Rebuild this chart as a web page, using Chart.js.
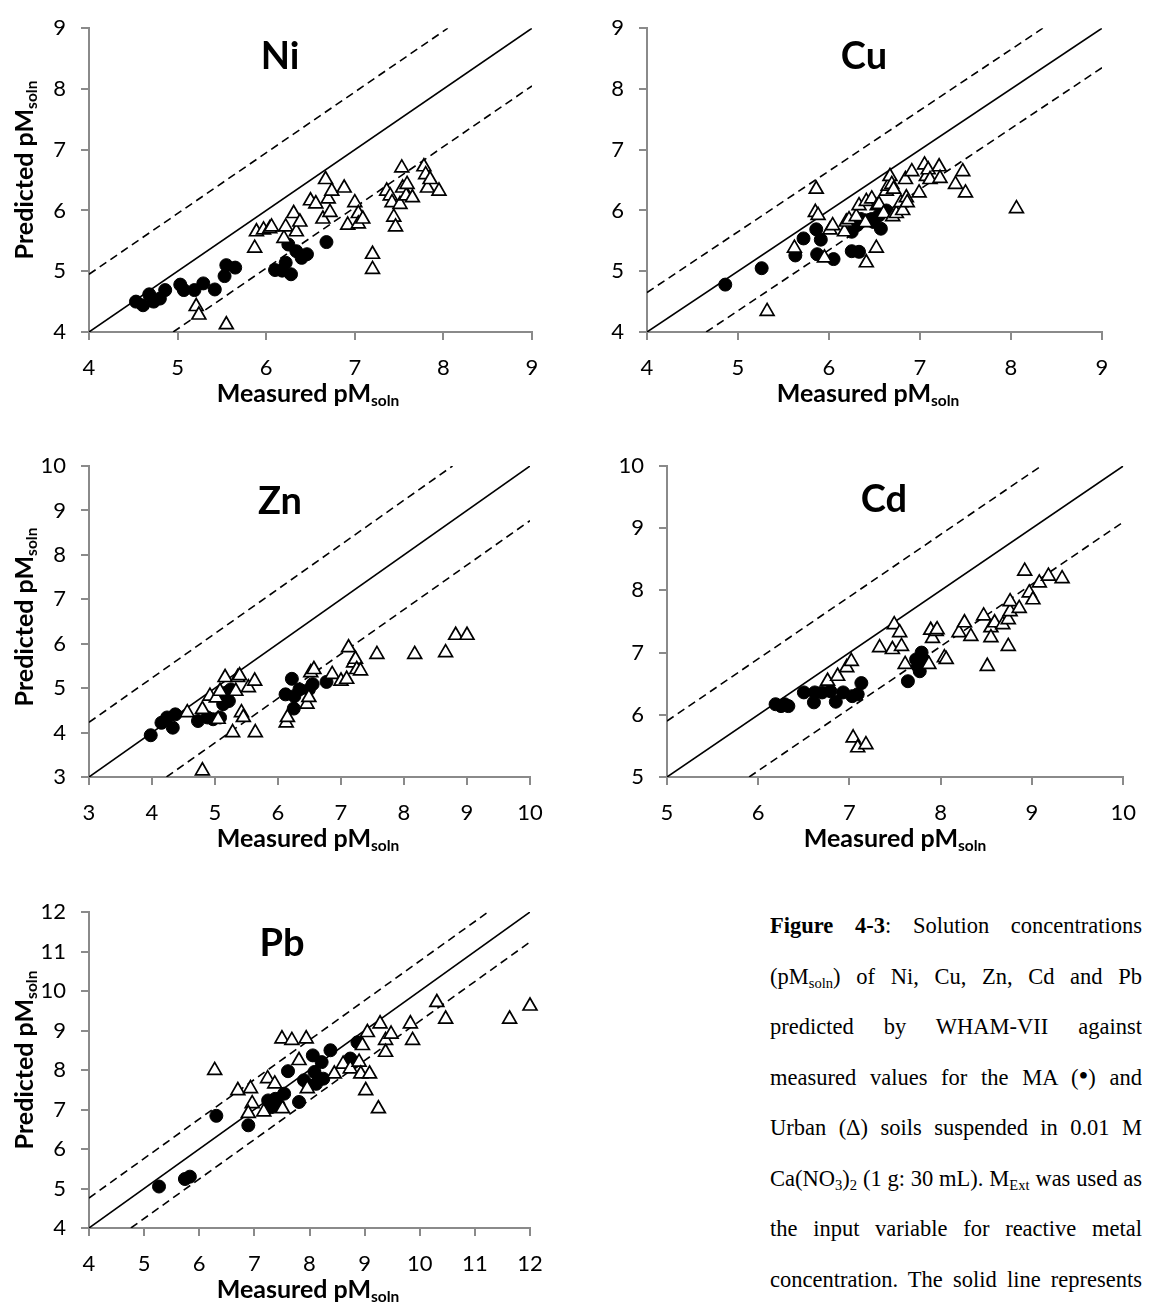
<!DOCTYPE html>
<html>
<head>
<meta charset="utf-8">
<title>Figure 4-3</title>
<script src="https://cdn.jsdelivr.net/npm/chart.js@4.4.1/dist/chart.umd.min.js"></script>
<style>
  html, body { margin: 0; padding: 0; background: #fff; }
  #page { position: relative; width: 1151px; height: 1305px; overflow: hidden; background: #fff; font-family: Lato, 'Noto Sans', sans-serif; color: #000; }
  #page canvas { position: absolute; }
  .metal { position: absolute; font-weight: 700; font-size: 38px; line-height: 1; transform: translate(-50%, -50%); }
  .xtitle, .ytitle { position: absolute; font-weight: 700; font-size: 25px; line-height: 1; white-space: nowrap; }
  .xtitle { transform: translate(-50%, -50%); }
  .ytitle { transform: translate(-50%, -50%) rotate(-90deg); }
  sub { font-size: 62%; line-height: 0; vertical-align: -0.3em; }
  #caption { position: absolute; left: 770px; top: 901px; width: 372px; font-family: 'Liberation Serif', 'Times New Roman', serif; font-size: 22.5px; }
  #caption div { height: 50.5px; line-height: 50.5px; overflow: hidden; text-align: justify; text-align-last: justify; }
  #caption sub { font-size: 65%; vertical-align: -0.25em; }
  .dot { font-size: 1.25em; line-height: 0; }
</style>
</head>
<body>
<div id="page">
  <canvas id="ni"></canvas>
  <canvas id="cu"></canvas>
  <canvas id="zn"></canvas>
  <canvas id="cd"></canvas>
  <canvas id="pb"></canvas>

  <div class="metal" style="left:280px; top:54px;">Ni</div>
  <div class="metal" style="left:864px; top:54px;">Cu</div>
  <div class="metal" style="left:280px; top:499px;">Zn</div>
  <div class="metal" style="left:884px; top:497px;">Cd</div>
  <div class="metal" style="left:282px; top:941px;">Pb</div>

  <div class="ytitle" style="left:23px; top:170px;">Predicted pM<sub>soln</sub></div>
  <div class="ytitle" style="left:23px; top:617px;">Predicted pM<sub>soln</sub></div>
  <div class="ytitle" style="left:23px; top:1060px;">Predicted pM<sub>soln</sub></div>

  <div class="xtitle" style="left:308px; top:392px;">Measured pM<sub>soln</sub></div>
  <div class="xtitle" style="left:868px; top:392px;">Measured pM<sub>soln</sub></div>
  <div class="xtitle" style="left:308px; top:837px;">Measured pM<sub>soln</sub></div>
  <div class="xtitle" style="left:895px; top:837px;">Measured pM<sub>soln</sub></div>
  <div class="xtitle" style="left:308px; top:1288px;">Measured pM<sub>soln</sub></div>

  <div id="caption">
    <div><b>Figure 4-3</b>: Solution concentrations</div>
    <div>(pM<sub>soln</sub>) of Ni, Cu, Zn, Cd and Pb</div>
    <div>predicted by WHAM-VII against</div>
    <div>measured values for the MA (<span class="dot">&#8226;</span>) and</div>
    <div>Urban (&#916;) soils suspended in 0.01 M</div>
    <div>Ca(NO<sub>3</sub>)<sub>2</sub> (1 g: 30 mL). M<sub>Ext</sub> was used as</div>
    <div>the input variable for reactive metal</div>
    <div>concentration. The solid line represents</div>
  </div>
</div>

<script>
// axis ranges [min, max] for each metal
const niRange = [4, 9];
const cuRange = [4, 9];
const znRange = [3, 10];
const cdRange = [5, 10];
const pbRange = [4, 12];

// measured vs predicted pM(soln), MA soils (filled circles)
const niMA = [[4.53,4.50],[4.61,4.44],[4.68,4.62],[4.73,4.50],[4.80,4.55],[4.86,4.69],[5.03,4.78],[5.07,4.69],
  [5.19,4.69],[5.29,4.80],[5.42,4.70],[5.53,4.92],[5.55,5.10],[5.65,5.06],[6.10,5.02],[6.18,5.01],[6.22,5.14],
  [6.25,5.44],[6.28,4.95],[6.34,5.33],[6.40,5.22],[6.46,5.28],[6.68,5.48]];
const cuMA = [[4.86,4.78],[5.26,5.05],[5.63,5.26],[5.72,5.54],[5.86,5.69],[5.87,5.28],[5.91,5.52],[6.05,5.20],
  [6.25,5.33],[6.33,5.32],[6.25,5.65],[6.27,5.81],[6.31,5.76],[6.35,5.86],[6.43,5.84],[6.47,5.86],[6.49,5.81],
  [6.55,5.92],[6.57,5.70],[6.63,6.00]];
const znMA = [[3.98,3.94],[4.15,4.22],[4.24,4.34],[4.33,4.11],[4.37,4.41],[4.73,4.26],[4.88,4.34],[4.97,4.30],
  [5.08,4.34],[5.13,4.64],[5.18,4.90],[5.22,4.71],[5.25,4.97],[5.15,4.80],[6.12,4.86],[6.22,5.21],[6.25,4.54],
  [6.26,4.82],[6.34,4.97],[6.49,4.97],[6.55,5.09],[6.77,5.14]];
const cdMA = [[6.19,6.17],[6.25,6.14],[6.29,6.17],[6.33,6.14],[6.50,6.36],[6.61,6.20],[6.62,6.36],[6.70,6.36],
  [6.79,6.38],[6.85,6.21],[6.93,6.36],[7.03,6.30],[7.09,6.33],[7.13,6.51],[7.64,6.54],[7.73,6.89],[7.75,6.78],
  [7.77,6.70],[7.79,7.00],[7.81,6.89]];
const pbMA = [[5.27,5.05],[5.74,5.24],[5.83,5.30],[6.31,6.84],[6.89,6.60],[7.25,7.23],[7.31,7.06],[7.38,7.27],
  [7.44,7.11],[7.54,7.40],[7.61,7.97],[7.81,7.19],[7.90,7.74],[7.99,7.61],[8.06,8.37],[8.09,7.95],[8.12,7.65],
  [8.22,8.20],[8.25,7.78],[8.38,8.50],[8.74,8.29],[8.80,8.20],[8.87,8.70]];

// Urban soils (open triangles)
const niUrban = [[5.21,4.42],[5.24,4.28],[5.55,4.12],[5.87,5.38],[5.89,5.65],[5.97,5.68],[6.04,5.70],[6.06,5.73],
  [6.20,5.54],[6.22,5.73],[6.31,5.95],[6.34,5.65],[6.38,5.81],[6.50,6.16],[6.56,6.11],[6.64,5.86],[6.67,6.51],
  [6.70,6.19],[6.72,5.97],[6.74,6.32],[6.88,6.37],[6.92,5.76],[7.00,6.13],[7.04,5.95],[7.04,5.78],[7.09,5.86],
  [7.20,5.28],[7.20,5.03],[7.36,6.32],[7.40,6.24],[7.42,6.13],[7.44,5.89],[7.46,5.73],[7.51,6.10],[7.53,6.70],
  [7.54,6.37],[7.58,6.24],[7.59,6.43],[7.65,6.21],[7.78,6.72],[7.80,6.59],[7.82,6.37],[7.85,6.51],[7.95,6.32]];
const cuUrban = [[5.32,4.34],[5.62,5.38],[5.86,6.35],[5.85,5.97],[5.88,5.92],[5.95,5.22],[6.01,5.68],[6.04,5.75],
  [6.17,5.65],[6.19,5.81],[6.22,5.85],[6.30,5.90],[6.33,6.08],[6.40,5.80],[6.41,5.14],[6.41,6.15],[6.47,6.19],
  [6.52,5.38],[6.53,6.08],[6.55,6.10],[6.60,5.95],[6.63,6.32],[6.65,6.40],[6.67,6.56],[6.69,6.43],[6.70,5.90],
  [6.71,6.35],[6.74,5.95],[6.79,6.13],[6.81,6.00],[6.84,6.51],[6.85,6.21],[6.86,6.13],[6.91,6.64],[6.99,6.29],
  [7.05,6.75],[7.07,6.56],[7.09,6.67],[7.11,6.51],[7.21,6.72],[7.22,6.53],[7.39,6.43],[7.47,6.64],[7.50,6.29],
  [8.06,6.03]];
const znUrban = [[4.56,4.45],[4.80,3.14],[4.80,4.52],[4.92,4.82],[5.02,4.78],[5.08,4.93],[5.16,5.24],[5.05,4.30],
  [5.28,4.00],[5.33,4.93],[5.36,5.24],[5.39,5.28],[5.42,4.45],[5.45,4.34],[5.53,5.01],[5.63,5.16],[5.64,4.00],
  [6.13,4.22],[6.15,4.34],[6.46,4.64],[6.49,4.79],[6.52,5.35],[6.57,5.42],[6.86,5.31],[7.00,5.16],[7.09,5.20],
  [7.12,5.91],[7.20,5.57],[7.23,5.65],[7.25,5.42],[7.31,5.39],[7.57,5.76],[8.17,5.76],[8.66,5.80],[8.82,6.19],
  [9.00,6.19]];
const cdUrban = [[6.76,6.54],[6.87,6.62],[6.97,6.76],[7.02,6.86],[7.04,5.63],[7.09,5.47],[7.18,5.52],[7.33,7.08],
  [7.47,7.05],[7.49,7.45],[7.55,7.32],[7.57,7.10],[7.61,6.81],[7.87,6.81],[7.89,7.36],[7.91,7.23],[7.95,7.34],
  [7.96,7.37],[8.04,6.92],[8.06,6.89],[8.20,7.32],[8.26,7.48],[8.33,7.26],[8.47,7.59],[8.51,6.78],[8.55,7.40],
  [8.55,7.24],[8.59,7.48],[8.68,7.45],[8.74,7.10],[8.74,7.53],[8.76,7.66],[8.76,7.82],[8.86,7.71],[8.92,8.31],
  [8.97,7.96],[9.01,7.85],[9.08,8.12],[9.18,8.23],[9.33,8.19]];
const pbUrban = [[6.28,7.99],[6.70,7.48],[6.93,7.53],[6.96,7.15],[6.89,6.90],[7.17,6.94],[7.24,7.78],[7.37,7.65],
  [7.50,8.79],[7.51,7.02],[7.68,8.75],[7.81,8.24],[7.94,8.79],[7.96,7.53],[8.45,7.90],[8.61,8.15],[8.74,8.03],
  [8.90,8.20],[8.93,7.90],[8.96,8.62],[9.02,7.48],[9.05,8.95],[9.09,7.90],[9.25,7.02],[9.28,9.17],[9.38,8.75],
  [9.38,8.45],[9.48,8.91],[9.83,9.17],[9.87,8.75],[10.31,9.71],[10.47,9.29],[11.63,9.29],[12.00,9.62]];

// dashed error bands (end points)
const niUpper = [[4, 4.95], [8.05, 9]],   niLower = [[4.95, 4], [9, 8.05]];
const cuUpper = [[4, 4.65], [8.35, 9]],   cuLower = [[4.65, 4], [9, 8.35]];
const znUpper = [[3, 4.23], [8.77, 10]],  znLower = [[4.23, 3], [10, 8.77]];
const cdUpper = [[5, 5.9], [9.1, 10]],    cdLower = [[5.9, 5], [10, 9.1]];
const pbUpper = [[4, 4.76], [11.24, 12]], pbLower = [[4.76, 4], [12, 11.24]];

const axisGrey = '#8a8a8a';
const tickFont = { family: 'Lato, sans-serif', size: 22 };

function pts(list) {
  return list.map(p => ({ x: p[0], y: p[1] }));
}

// box = canvas [left, top, width, height]; area = plot area [left, top, right, bottom], page px
function makePanel(id, range, ma, urban, upper, lower, box, area) {
  const canvas = document.getElementById(id);
  canvas.width = box[2];
  canvas.height = box[3];
  canvas.style.left = box[0] + 'px';
  canvas.style.top = box[1] + 'px';

  const yWidth = area[0] - box[0];
  const xHeight = box[1] + box[3] - area[3];

  const axis = (fitFn) => ({
    type: 'linear',
    min: range[0],
    max: range[1],
    ticks: { stepSize: 1, color: '#000', font: tickFont, padding: 15 },
    grid: { drawOnChartArea: false, drawTicks: true, tickLength: 8, color: axisGrey, lineWidth: 2 },
    border: { display: true, color: axisGrey, width: 2 },
    afterFit: fitFn
  });

  new Chart(canvas, {
    type: 'scatter',
    data: {
      datasets: [
        { label: 'Urban', data: pts(urban), pointStyle: 'triangle', pointRadius: 8,
          backgroundColor: '#fff', borderColor: '#000', borderWidth: 1.7, order: 1, clip: false },
        { label: 'MA', data: pts(ma), pointStyle: 'circle', pointRadius: 6.5,
          backgroundColor: '#000', borderColor: '#000', borderWidth: 1, order: 2, clip: false },
        { label: '1:1', data: pts([[range[0], range[0]], [range[1], range[1]]]), showLine: true,
          pointRadius: 0, borderColor: '#000', borderWidth: 1.6, order: 3 },
        { label: 'upper', data: pts(upper), showLine: true, pointRadius: 0,
          borderColor: '#000', borderWidth: 1.6, borderDash: [8, 5], order: 3 },
        { label: 'lower', data: pts(lower), showLine: true, pointRadius: 0,
          borderColor: '#000', borderWidth: 1.6, borderDash: [8, 5], order: 3 }
      ]
    },
    options: {
      responsive: false,
      animation: false,
      layout: {
        autoPadding: false,
        padding: { left: 0, bottom: 0, top: area[1] - box[1], right: box[0] + box[2] - area[2] }
      },
      plugins: { legend: { display: false }, tooltip: { enabled: false } },
      scales: {
        x: axis(s => { s.height = xHeight; }),
        y: axis(s => { s.width = yWidth; })
      }
    }
  });
}

makePanel('ni', niRange, niMA, niUrban, niUpper, niLower, [0, 0, 575, 420], [89, 22, 532, 332]);
makePanel('cu', cuRange, cuMA, cuUrban, cuUpper, cuLower, [585, 0, 566, 420], [647, 22, 1102, 332]);
makePanel('zn', znRange, znMA, znUrban, znUpper, znLower, [0, 430, 575, 430], [89, 466, 530, 777]);
makePanel('cd', cdRange, cdMA, cdUrban, cdUpper, cdLower, [585, 430, 566, 430], [667, 466, 1134, 777]);
makePanel('pb', pbRange, pbMA, pbUrban, pbUpper, pbLower, [0, 870, 575, 435], [89, 912, 530, 1228]);
</script>
</body>
</html>
